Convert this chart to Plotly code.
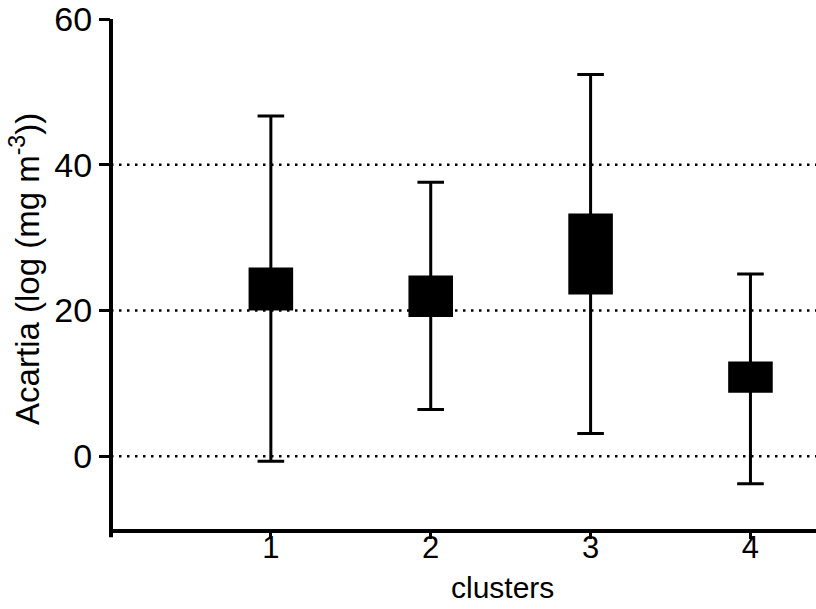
import plotly.graph_objects as go

# Acartia biomass per cluster: box spans and whisker extents
clusters = [1, 2, 3, 4]
box_upper = [25.7, 24.6, 33.1, 12.8]
box_lower = [20.2, 19.3, 22.4, 8.9]
box_mid = [23.0, 22.0, 27.8, 10.9]
whisker_upper = [46.7, 37.6, 52.4, 25.0]
whisker_lower = [-0.7, 6.4, 3.1, -3.8]

y_ticks = [0, 20, 40, 60]
grid_levels = [0, 20, 40]

FONT = "Liberation Sans, Arial, Helvetica, sans-serif"
NARROW = "Liberation Sans Narrow, Liberation Sans, Arial, sans-serif"

fig = go.Figure()

fig.add_trace(go.Box(
    x=clusters,
    q1=box_lower,
    median=box_mid,
    q3=box_upper,
    lowerfence=whisker_lower,
    upperfence=whisker_upper,
    width=0.26,
    whiskerwidth=0.64,
    fillcolor="black",
    line=dict(color="black", width=3),
    marker=dict(color="black"),
    boxpoints=False,
    showlegend=False,
    hoverinfo="skip",
))

# dotted reference lines
for lvl in grid_levels:
    fig.add_shape(type="line", xref="paper", yref="y", x0=0, x1=1, y0=lvl, y1=lvl,
                  line=dict(color="black", width=2.5, dash="2.5px,5.5px"), layer="below")

# y axis line overshooting slightly below the x axis
fig.add_shape(type="line", xref="paper", yref="paper", x0=0, x1=0, y0=-0.016, y1=1,
              line=dict(color="black", width=4))

fig.update_layout(
    width=816, height=609,
    margin=dict(l=111, r=0, t=14, b=80),
    plot_bgcolor="white", paper_bgcolor="white",
    font=dict(family=FONT, color="black"),
    xaxis=dict(
        range=[0, 4.41],
        tickvals=clusters,
        ticktext=[str(c) for c in clusters],
        ticks="outside", ticklen=6, tickwidth=3, tickcolor="black",
        showline=True, linecolor="black", linewidth=3.5,
        showgrid=False, zeroline=False,
        tickfont=dict(size=31, family=FONT),
        ticklabelstandoff=-18,
    ),
    yaxis=dict(
        range=[-10, 60.02],
        tickvals=y_ticks,
        ticks="outside", ticklen=11, tickwidth=3, tickcolor="black",
        showline=False, showgrid=False, zeroline=False,
        tickfont=dict(size=34, family=FONT),
        ticklabeloverflow="allow",
    ),
    annotations=[
        dict(text="clusters", xref="paper", yref="paper", x=0.556, y=-0.1146,
             xanchor="center", yanchor="middle", showarrow=False,
             font=dict(size=30, family=NARROW)),
        dict(text="Acartia (log (mg m<sup>-3</sup>))", xref="paper", yref="paper",
             x=-0.122, y=0.51, xanchor="center", yanchor="middle",
             textangle=-90, showarrow=False,
             font=dict(size=33, family=FONT)),
    ],
)

fig.write_html("out.html")
